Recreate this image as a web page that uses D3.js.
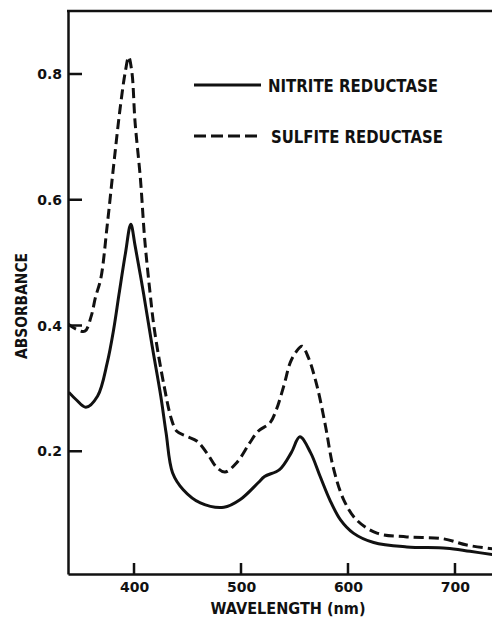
<!DOCTYPE html>
<html>
<head>
<meta charset="utf-8">
<script src="https://cdnjs.cloudflare.com/ajax/libs/d3/7.8.5/d3.min.js"></script>
<style>
  html, body { margin: 0; padding: 0; background: #fff; }
  svg { display: block; }
  text { font-family: "DejaVu Sans", "Liberation Sans", sans-serif; font-weight: bold; fill: #111; }
</style>
</head>
<body>
<script>
// ---- data ----
const nitriteWavelength = [339, 346, 355, 366, 375, 381, 386, 392, 397, 401, 409, 417, 425, 430, 436, 446, 462, 484, 499, 516, 522, 536, 547, 555, 565, 574, 583, 593, 605, 624, 655, 692, 714, 735];
const nitriteAbsorbance = [0.294, 0.282, 0.270, 0.288, 0.341, 0.394, 0.450, 0.515, 0.561, 0.527, 0.450, 0.367, 0.288, 0.229, 0.166, 0.139, 0.118, 0.111, 0.123, 0.150, 0.160, 0.171, 0.198, 0.223, 0.198, 0.160, 0.123, 0.091, 0.070, 0.055, 0.048, 0.046, 0.041, 0.036];

const sulfiteWavelength = [338, 345, 354, 360, 364, 369, 375, 381, 387, 392, 395, 398, 401, 406, 410, 415, 419, 428, 435, 440, 449, 459, 469, 477, 485, 496, 508, 516, 527, 533, 540, 546, 551, 557, 563, 571, 579, 586, 596, 608, 627, 655, 689, 711, 735];
const sulfiteAbsorbance = [0.403, 0.395, 0.391, 0.415, 0.445, 0.475, 0.560, 0.655, 0.745, 0.805, 0.827, 0.803, 0.723, 0.633, 0.537, 0.452, 0.394, 0.305, 0.251, 0.232, 0.224, 0.216, 0.195, 0.175, 0.167, 0.182, 0.213, 0.232, 0.245, 0.266, 0.304, 0.341, 0.357, 0.367, 0.349, 0.304, 0.240, 0.176, 0.123, 0.091, 0.070, 0.064, 0.061, 0.051, 0.045];

const xTickValues = [400, 500, 600, 700];
const yTickValues = [0.2, 0.4, 0.6, 0.8];
const seriesNames = ["NITRITE REDUCTASE", "SULFITE REDUCTASE"];
const xAxisTitle = "WAVELENGTH (nm)";
const yAxisTitle = "ABSORBANCE";

// ---- layout ----
const W = 492, H = 618;
const mLeft = 68, mRight = 492, mTop = 11, mBottom = 574;

const svg = d3.select("body").append("svg").attr("width", W).attr("height", H);

const x = d3.scaleLinear().domain([338.3, 734.6]).range([mLeft, mRight]);
const y = d3.scaleLinear().domain([0.005, 0.9]).range([mBottom, mTop]);

const ink = "#111";

// clip
svg.append("clipPath").attr("id", "plot").append("rect")
  .attr("x", mLeft).attr("y", mTop).attr("width", mRight - mLeft).attr("height", mBottom - mTop);

// top border line
svg.append("line").attr("x1", mLeft - 1).attr("x2", mRight).attr("y1", mTop).attr("y2", mTop)
  .attr("stroke", ink).attr("stroke-width", 2.5);

// x axis
const gx = svg.append("g").attr("transform", `translate(0,${mBottom})`)
  .call(d3.axisBottom(x).tickValues(xTickValues).tickSize(0).tickSizeOuter(0).tickPadding(8).tickFormat(d3.format("d")));
gx.select(".domain").attr("stroke", ink).attr("stroke-width", 2.5);
gx.selectAll(".tick text").attr("y", 8).attr("font-size", 14).style("font-family", "DejaVu Sans").style("font-weight", "bold").attr("fill", ink);

// y axis
const gy = svg.append("g").attr("transform", `translate(${mLeft},0)`)
  .call(d3.axisLeft(y).tickValues(yTickValues).tickSize(0).tickSizeOuter(0).tickPadding(6).tickFormat(d3.format(".1f")));
gy.select(".domain").attr("stroke", ink).attr("stroke-width", 2.5);
gy.selectAll(".tick text").attr("x", -6).attr("font-size", 14).style("font-family", "DejaVu Sans").style("font-weight", "bold").attr("fill", ink);

// inward tick marks as one path built from the scales
const tickPath = d3.path();
xTickValues.forEach(v => { tickPath.moveTo(x(v), mBottom); tickPath.lineTo(x(v), mBottom - 11); });
yTickValues.forEach(v => { tickPath.moveTo(mLeft, y(v)); tickPath.lineTo(mLeft + 14, y(v)); });
svg.append("path").attr("d", tickPath.toString())
  .attr("fill", "none").attr("stroke", ink).attr("stroke-width", 2.5);

// axis titles
svg.append("text").attr("x", 288).attr("y", 614).attr("text-anchor", "middle")
  .attr("font-size", 16).attr("textLength", 155).attr("lengthAdjust", "spacingAndGlyphs")
  .text(xAxisTitle);
svg.append("text").attr("transform", `translate(27,306) rotate(-90)`).attr("text-anchor", "middle")
  .attr("font-size", 16).attr("textLength", 106).attr("lengthAdjust", "spacingAndGlyphs")
  .text(yAxisTitle);

// curves
const lineGen = d3.line().x(d => x(d[0])).y(d => y(d[1])).curve(d3.curveCatmullRom.alpha(0.5));
const nitrite = nitriteWavelength.map((w, i) => [w, nitriteAbsorbance[i]]);
const sulfite = sulfiteWavelength.map((w, i) => [w, sulfiteAbsorbance[i]]);

const plot = svg.append("g").attr("clip-path", "url(#plot)");
plot.append("path").datum(nitrite).attr("d", lineGen)
  .attr("fill", "none").attr("stroke", ink).attr("stroke-width", 3).attr("stroke-linejoin", "round");
plot.append("path").datum(sulfite).attr("d", lineGen)
  .attr("fill", "none").attr("stroke", ink).attr("stroke-width", 3).attr("stroke-dasharray", "10,5");

// legend
const legend = svg.append("g");
const legendRows = [
  { name: seriesNames[0], y: 85, dash: null, tx: 268, tl: 170 },
  { name: seriesNames[1], y: 136, dash: "12,5", tx: 271, tl: 172 }
];
legendRows.forEach(r => {
  legend.append("line").attr("x1", 194).attr("x2", 261).attr("y1", r.y).attr("y2", r.y)
    .attr("stroke", ink).attr("stroke-width", 3).attr("stroke-dasharray", r.dash);
  legend.append("text").attr("x", r.tx).attr("y", r.y + 7).attr("font-size", 17)
    .attr("textLength", r.tl).attr("lengthAdjust", "spacingAndGlyphs").text(r.name);
});
</script>
</body>
</html>
